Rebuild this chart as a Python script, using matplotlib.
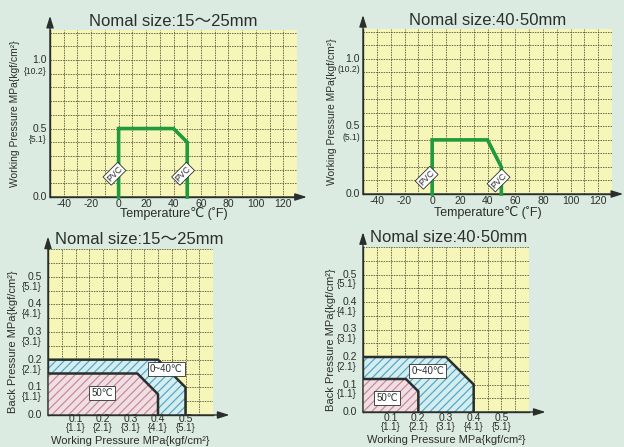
import matplotlib
matplotlib.use("Agg")
import matplotlib.pyplot as plt
import numpy as np

plt.rcParams['font.family'] = ['Liberation Sans', 'DejaVu Sans', 'Noto Sans CJK JP']
plt.rcParams['hatch.linewidth'] = 0.85

# --- data ---
temp_ticks = [-40, -20, 0, 20, 40, 60, 80, 100, 120]

# working pressure vs temperature (PVC), MPa
tl_temp = [0, 0, 40, 50, 50]
tl_press = [0, 0.5, 0.5, 0.4, 0]
tr_temp = [0, 0, 40, 50, 50]
tr_press = [0, 0.4, 0.4, 0.2, 0]

# back pressure vs working pressure, MPa
bl_cool_wp = [0, 0, 0.4, 0.5, 0.5]
bl_cool_bp = [0, 0.2, 0.2, 0.1, 0]
bl_hot_wp = [0, 0, 0.325, 0.4, 0.4]
bl_hot_bp = [0, 0.15, 0.15, 0.075, 0]
br_cool_wp = [0, 0, 0.3, 0.4, 0.4]
br_cool_bp = [0, 0.2, 0.2, 0.1, 0]
br_hot_wp = [0, 0, 0.155, 0.2, 0.2]
br_hot_bp = [0, 0.12, 0.12, 0.075, 0]

mpa_ticks = [0.1, 0.2, 0.3, 0.4, 0.5]
kgf_ticks = ['{1.1}', '{2.1}', '{3.1}', '{4.1}', '{5.1}']

W, H = 624, 447
BG = '#dcebe1'
YEL = '#f5f6b8'
DARK = '#2a2f2c'
GREEN = '#1f9a3c'

fig = plt.figure(figsize=(W / 100, H / 100), dpi=100, facecolor=BG)


def make_ax(l, r, t, b):
    ax = fig.add_axes([l / W, (H - b) / H, (r - l) / W, (b - t) / H])
    ax.set_facecolor(YEL)
    for s in ['top', 'right']:
        ax.spines[s].set_visible(False)
    for s in ['left', 'bottom']:
        ax.spines[s].set_color(DARK)
        ax.spines[s].set_linewidth(1.0)
    ax.tick_params(which='both', length=0, labelbottom=False, labelleft=False)
    return ax


def grid(ax, xs, ys):
    ax.set_xticks(xs, minor=True)
    ax.set_yticks(ys, minor=True)
    ax.set_xticks([])
    ax.set_yticks([])
    ax.grid(which='minor', color='#4a4a34', linewidth=0.55, linestyle=(0, (2.0, 1.3)))
    ax.set_axisbelow(True)


def arrows(ax, dx, dy):
    kw = dict(xycoords='axes fraction', textcoords='axes fraction', annotation_clip=False,
              arrowprops=dict(arrowstyle='-|>,head_length=0.7,head_width=0.22', color=DARK, lw=1.0,
                              shrinkA=0, shrinkB=0))
    ax.annotate('', xy=(1 + dx, 0), xytext=(0, 0), **kw)
    ax.annotate('', xy=(0, 1 + dy), xytext=(0, 0), **kw)


def pvc(ax, x, y):
    ax.text(x, y, 'PVC', rotation=45, fontsize=6.3, ha='center', va='center', color=DARK,
            bbox=dict(boxstyle='square,pad=0.15', fc='white', ec=DARK, lw=0.6), zorder=5)


def top_panel(box, temp, press, title, ylab_x, brace, pvc_pos, dx, dy, tick_y, xlab_y):
    ax = make_ax(*box)
    ax.set_xlim(-50, 130)
    ax.set_ylim(0, 1.22)
    grid(ax, np.arange(-50, 131, 10), np.arange(0, 1.21, 0.1))
    ax.plot(temp, press, color=GREEN, lw=2.6, solid_joinstyle='miter', zorder=4, clip_on=False)
    for p in pvc_pos:
        pvc(ax, *p)
    tr = ax.get_xaxis_transform()
    for t in temp_ticks:
        ax.text(t, tick_y, str(t), transform=tr, ha='center', va='center', fontsize=7.5, color=DARK)
    ty = ax.get_yaxis_transform()
    for v, sub in [(1.0, brace[0]), (0.5, brace[1])]:
        ax.text(-0.012, v, '%.1f' % v, transform=ty, ha='right', va='center', fontsize=7.5, color=DARK)
        ax.text(-0.012, v - 0.08, sub, transform=ty, ha='right', va='center', fontsize=6.2, color=DARK)
    ax.text(-0.012, 0.0, '0.0', transform=ty, ha='right', va='center', fontsize=7.5, color=DARK)
    ax.text(0.5, xlab_y, 'Temperature℃ (˚F)', transform=ax.transAxes, ha='center', va='center',
            fontsize=9, color=DARK)
    ax.text(ylab_x, 0.5, 'Working Pressure MPa{kgf/cm²}', transform=ax.transAxes, rotation=90,
            ha='center', va='center', fontsize=7.4, color=DARK)
    ax.set_title(title, fontsize=12, color=DARK, pad=3)
    arrows(ax, dx, dy)
    return ax


def bottom_panel(box, cool, hot, cool_lab, hot_lab, title, title_x, dx, dy, tick_y, xlab_y, ylab_x):
    ax = make_ax(*box)
    ax.set_xlim(0, 0.6)
    ax.set_ylim(0, 0.6)
    grid(ax, np.arange(0, 0.61, 0.05), np.arange(0, 0.61, 0.05))
    ax.fill(cool[0], cool[1], facecolor='#d6eded', edgecolor='#4aa6cc', hatch='////', lw=0, zorder=2)
    ax.fill(hot[0], hot[1], facecolor='#f0dfe2', edgecolor='#c8849c', hatch='////', lw=0, zorder=3)
    ax.plot(cool[0][1:], cool[1][1:], color=DARK, lw=1.8, zorder=4)
    ax.plot(hot[0][1:], hot[1][1:], color=DARK, lw=1.8, zorder=4)
    ax.text(*cool_lab, '0~40℃', fontsize=7, ha='center', va='center', color=DARK, zorder=5,
            bbox=dict(boxstyle='square,pad=0.2', fc='white', ec=DARK, lw=0.6))
    ax.text(*hot_lab, '50℃', fontsize=7, ha='center', va='center', color=DARK, zorder=5,
            bbox=dict(boxstyle='square,pad=0.2', fc='white', ec=DARK, lw=0.6))
    tr = ax.get_xaxis_transform()
    ty = ax.get_yaxis_transform()
    for v, sub in zip(mpa_ticks, kgf_ticks):
        ax.text(v, tick_y, '%.1f' % v, transform=tr, ha='center', va='center', fontsize=7.5, color=DARK)
        ax.text(v, tick_y - 0.054, sub, transform=tr, ha='center', va='center', fontsize=7, color=DARK)
        ax.text(-0.036, v, '%.1f' % v, transform=ty, ha='right', va='center', fontsize=7.5, color=DARK)
        ax.text(-0.036, v - 0.036, sub, transform=ty, ha='right', va='center', fontsize=7, color=DARK)
    ax.text(-0.036, 0.0, '0.0', transform=ty, ha='right', va='center', fontsize=7.5, color=DARK)
    ax.text(0.5, xlab_y, 'Working Pressure MPa{kgf/cm²}', transform=ax.transAxes, ha='center',
            va='center', fontsize=8, color=DARK)
    ax.text(ylab_x, 0.44, 'Back Pressure MPa{kgf/cm²}', transform=ax.transAxes, rotation=90,
            ha='center', va='center', fontsize=8, color=DARK)
    ax.text(title_x, 1.06, title, transform=ax.transAxes, ha='left', va='center', fontsize=12, color=DARK)
    arrows(ax, dx, dy)
    return ax


top_panel((50, 297, 30, 197), tl_temp, tl_press, 'Nomal size:15～25mm', -0.142,
          ['{10.2}', '{5.1}'], [(-3, 0.17), (47, 0.17)], 0.04, 0.085, -0.04, -0.1)
top_panel((363, 612, 29, 194), tr_temp, tr_press, 'Nomal size:40·50mm', -0.125,
          ['(10.2)', '(5.1)'], [(-4, 0.12), (48, 0.1)], 0.045, 0.085, -0.045, -0.11)
bottom_panel((48, 213, 249, 415), (bl_cool_wp, bl_cool_bp), (bl_hot_wp, bl_hot_bp),
             (0.43, 0.166), (0.197, 0.081), 'Nomal size:15～25mm', 0.04, 0.1, 0.075,
             -0.026, -0.157, -0.21)
bottom_panel((363, 529, 247, 412), (br_cool_wp, br_cool_bp), (br_hot_wp, br_hot_bp),
             (0.234, 0.15), (0.087, 0.05), 'Nomal size:40·50mm', 0.04, 0.1, 0.09,
             -0.036, -0.17, -0.19)

fig.savefig('out.png', dpi=100, facecolor=BG)
